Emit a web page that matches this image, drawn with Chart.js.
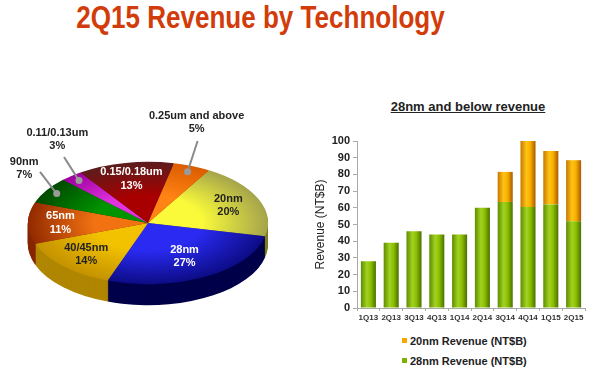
<!DOCTYPE html>
<html>
<head>
<meta charset="utf-8">
<script src="https://cdn.jsdelivr.net/npm/chart.js@4"></script>
<style>
  body { margin: 0; width: 600px; height: 371px; background: #fff; position: relative; overflow: hidden; font-family: Arial, "Liberation Sans", sans-serif; }
  #title { position: absolute; left: 0; top: 0; width: 521px; text-align: center; font-size: 31px; line-height: 36px; font-weight: bold; color: #d23c0a; transform: scaleX(0.84); white-space: nowrap; }
  #pieBox { position: absolute; left: 0; top: 90px; width: 300px; height: 281px; }
  #barBox { position: absolute; left: 300px; top: 130px; width: 300px; height: 200px; }
  #barTitle { position: absolute; left: 368px; top: 99px; width: 200px; text-align: center; font-size: 13px; line-height: 15px; font-weight: bold; color: #222; text-decoration: underline; }
  #barLegend { position: absolute; left: 402px; top: 332px; font-size: 11px; font-weight: bold; color: #222; }
  #barLegend div { height: 19.5px; line-height: 19.5px; white-space: nowrap; }
  #barLegend span.sw { display: inline-block; width: 5px; height: 5px; margin-right: 3px; vertical-align: 2px; }
</style>
</head>
<body>
<div id="title">2Q15 Revenue by Technology</div>
<div id="pieBox"><canvas id="pieTech"></canvas></div>
<div id="barTitle">28nm and below revenue</div>
<div id="barBox"><canvas id="bar28"></canvas></div>
<div id="barLegend"></div>
<script>
// share of 2Q15 revenue per technology (%)
const techLabels = ['20nm', '28nm', '40/45nm', '65nm', '90nm', '0.11/0.13um', '0.15/0.18um', '0.25um and above'];
const techShare = [20, 27, 14, 11, 7, 3, 13, 5];

// 28nm and below revenue per quarter (NT$B)
const quarters = ['1Q13', '2Q13', '3Q13', '4Q13', '1Q14', '2Q14', '3Q14', '4Q14', '1Q15', '2Q15'];
const rev28nm = [28, 39, 46, 44, 44, 60, 63.5, 60.5, 62, 52];
const rev20nm = [0, 0, 0, 0, 0, 0, 18, 39.5, 32, 36.5];
const yTicks = [0, 10, 20, 30, 40, 50, 60, 70, 80, 90, 100];

// colours: top surface (inner, outer) and side
const topInner = ['#fafa3a', '#2a2af2', '#f2c200', '#f27212', '#009400', '#e232e2', '#a80000', '#ff8414'];
const topOuter = ['#a4a44c', '#0c0c86', '#c49200', '#922a00', '#004a00', '#9c009c', '#5c1c1c', '#dc5c00'];
const sideCol = ['#7c7c1c', '#00004a', '#b08600', '#862600', '#003600', '#6c006c', '#4c0c0c', '#a03c00'];
const labelCol = ['#222', '#fff', '#222', '#fff', '#222', '#222', '#fff', '#222'];

const pie3d = {
  id: 'pie3d',
  beforeDatasetsDraw(chart, args, opts) {
    const ctx = chart.ctx;
    const arcs = chart.getDatasetMeta(0).data;
    const cx = arcs[0].x, cy = arcs[0].y;
    // side walls, drawn as stacked layers
    for (let d = opts.depth; d > 0; d--) {
      ctx.save();
      ctx.translate(cx, cy + d);
      ctx.scale(1, opts.tilt);
      ctx.translate(-cx, -cy);
      arcs.forEach((a, i) => {
        ctx.beginPath();
        ctx.moveTo(a.x, a.y);
        ctx.arc(a.x, a.y, a.outerRadius, a.startAngle, a.endAngle);
        ctx.closePath();
        ctx.fillStyle = sideCol[i];
        ctx.fill();
      });
      ctx.restore();
    }
    ctx.save();
    ctx.translate(cx, cy);
    ctx.scale(1, opts.tilt);
    ctx.translate(-cx, -cy);
  },
  afterDatasetsDraw(chart, args, opts) {
    const ctx = chart.ctx;
    ctx.restore();
    const arcs = chart.getDatasetMeta(0).data;
    ctx.font = 'bold 11px Arial, "Liberation Sans"';
    ctx.textAlign = 'center';
    ctx.textBaseline = 'middle';
    arcs.forEach((a, i) => {
      const mid = (a.startAngle + a.endAngle) / 2;
      const lines = [chart.data.labels[i], chart.data.datasets[0].data[i] + '%'];
      const out = opts.outside[i];
      let tx, ty;
      if (out) {
        const r = a.outerRadius * 0.9;
        const dx = a.x + Math.cos(mid) * r;
        const dy = a.y + Math.sin(mid) * r * opts.tilt;
        ctx.strokeStyle = '#8a8a8a';
        ctx.lineWidth = 2;
        ctx.beginPath();
        ctx.moveTo(dx, dy);
        ctx.lineTo(dx + out.line[0], dy + out.line[1]);
        ctx.stroke();
        ctx.beginPath();
        ctx.arc(dx, dy, 3.5, 0, Math.PI * 2);
        ctx.fillStyle = '#9a9a9a';
        ctx.fill();
        tx = dx + out.text[0];
        ty = dy + out.text[1];
        ctx.fillStyle = '#222';
      } else {
        const f = opts.frac[i] || 0.73;
        tx = a.x + Math.cos(mid) * a.outerRadius * f;
        ty = a.y + Math.sin(mid) * a.outerRadius * f * opts.tilt;
        ctx.fillStyle = labelCol[i];
      }
      ctx.fillText(lines[0], tx, ty - 6.7);
      ctx.fillText(lines[1], tx, ty + 6.7);
    });
  }
};

new Chart(document.getElementById('pieTech'), {
  type: 'pie',
  data: {
    labels: techLabels,
    datasets: [{
      data: techShare,
      borderWidth: 0,
      backgroundColor: (c) => {
        const area = c.chart.chartArea;
        if (!area) return topInner[c.dataIndex];
        const x = (area.left + area.right) / 2, y = (area.top + area.bottom) / 2;
        const r = Math.min(area.right - area.left, area.bottom - area.top) / 2;
        if (!isFinite(x) || !isFinite(y) || !(r > 0)) return topInner[c.dataIndex];
        const g = c.chart.ctx.createRadialGradient(x, y, 0, x, y, r);
        g.addColorStop(0, topInner[c.dataIndex]);
        g.addColorStop(0.45, topInner[c.dataIndex]);
        g.addColorStop(1, topOuter[c.dataIndex]);
        return g;
      }
    }]
  },
  options: {
    responsive: true,
    maintainAspectRatio: false,
    animation: false,
    events: [],
    rotation: 30.5,
    layout: { padding: { left: 28, right: 32, top: 13, bottom: 28 } },
    plugins: {
      legend: { display: false },
      tooltip: { enabled: false },
      pie3d: {
        tilt: 0.51,
        depth: 21,
        frac: { 1: 0.63 },
        outside: {
          4: { line: [-16.7, -21.7], text: [-32.5, -25] },
          5: { line: [-15, -23.7], text: [-21.7, -41] },
          7: { line: [10, -30.7], text: [9, -49] }
        }
      }
    }
  },
  plugins: [pie3d]
});

function barFill(c, stops) {
  const xs = c.chart.scales.x;
  if (!xs) return stops[1];
  const cx = xs.getPixelForValue(c.dataIndex);
  const half = xs.width / quarters.length * 0.66 / 2;
  if (!isFinite(cx) || !isFinite(half) || half <= 0) return stops[1];
  const g = c.chart.ctx.createLinearGradient(cx - half, 0, cx + half, 0);
  g.addColorStop(0, stops[0]);
  g.addColorStop(0.4, stops[1]);
  g.addColorStop(0.65, stops[2]);
  g.addColorStop(1, stops[3]);
  return g;
}

const barChart = new Chart(document.getElementById('bar28'), {
  type: 'bar',
  data: {
    labels: quarters,
    datasets: [{
      label: '28nm Revenue (NT$B)',
      data: rev28nm,
      swatch: '#7fb000',
      backgroundColor: (c) => barFill(c, ['#5e8c00', '#a2d222', '#8cc000', '#4a7000'])
    }, {
      label: '20nm Revenue (NT$B)',
      data: rev20nm,
      swatch: '#f4a800',
      backgroundColor: (c) => barFill(c, ['#c87800', '#ffc414', '#f8b000', '#a85a00'])
    }]
  },
  options: {
    responsive: true,
    maintainAspectRatio: false,
    animation: false,
    events: [],
    datasets: { bar: { categoryPercentage: 1, barPercentage: 0.66, borderWidth: 0 } },
    layout: { padding: { left: 0, right: 15, top: 11, bottom: 0 } },
    scales: {
      x: {
        stacked: true,
        grid: { drawOnChartArea: false, color: '#aaa', tickLength: 3 },
        border: { color: '#aaa' },
        ticks: { color: '#333', font: { size: 8, weight: 'bold', family: 'Arial, "Liberation Sans"' }, maxRotation: 0, autoSkip: false, padding: 2 },
        afterFit: (s) => { s.height = 22; }
      },
      y: {
        stacked: true,
        min: yTicks[0],
        max: yTicks[yTicks.length - 1],
        afterBuildTicks: (s) => { s.ticks = yTicks.map(v => ({ value: v })); },
        grid: { drawOnChartArea: false, color: '#aaa', tickLength: 4 },
        border: { color: '#aaa' },
        ticks: { color: '#222', font: { size: 11, weight: 'bold', family: 'Arial, "Liberation Sans"' }, padding: 3 },
        title: { display: true, text: 'Revenue (NT$B)', color: '#222', font: { size: 12, family: 'Arial, "Liberation Sans"' }, padding: { top: 13, bottom: 0 } },
        afterFit: (s) => { s.width = 57; }
      }
    },
    plugins: {
      legend: { display: false },
      tooltip: { enabled: false }
    }
  }
});

// legend, stacked vertically, top series first
const legendBox = document.getElementById('barLegend');
barChart.data.datasets.slice().reverse().forEach(ds => {
  const row = document.createElement('div');
  const sw = document.createElement('span');
  sw.className = 'sw';
  sw.style.background = ds.swatch;
  row.appendChild(sw);
  row.appendChild(document.createTextNode(ds.label));
  legendBox.appendChild(row);
});
</script>
</body>
</html>
